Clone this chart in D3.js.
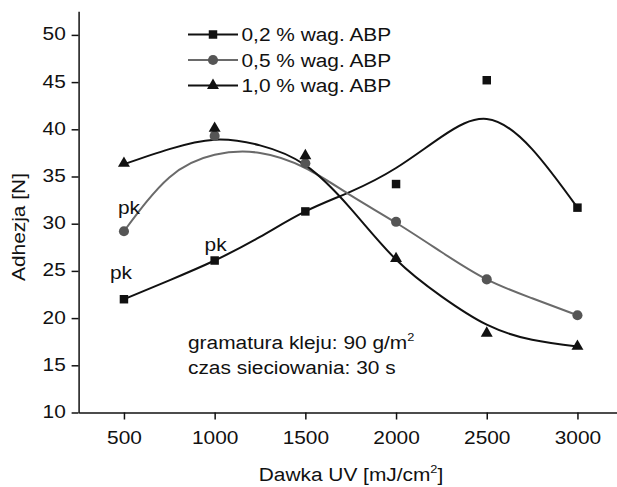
<!DOCTYPE html>
<html>
<head>
<meta charset="utf-8">
<script src="https://cdn.jsdelivr.net/npm/d3@7"></script>
<style>
  body { margin: 0; background: #fff; }
  text { font-family: "Liberation Sans", Arial, sans-serif; fill: #111; }
</style>
</head>
<body>
<div id="chart"></div>
<script>
// measured doses and adhesion values
const doses = [500, 1000, 1500, 2000, 2500, 3000];
const abp02 = [22.0, 26.1, 31.3, 34.2, 45.2, 31.7];
const abp05 = [29.2, 39.3, 36.4, 30.2, 24.1, 20.3];
const abp10 = [36.4, 40.1, 37.2, 26.3, 18.4, 17.0];

// fitted curves
const fitDoses = [500, 750, 1000, 1250, 1500, 1750, 2000, 2250, 2500, 2750, 3000];
const fit02 = [22.0, 24.0, 26.1, 28.6, 31.3, 33.4, 35.9, 39.2, 41.1, 37.9, 31.7];
const fit05 = [29.2, 34.9, 37.3, 37.5, 35.9, 33.0, 30.1, 27.0, 24.1, 22.1, 20.3];
const fit10 = [36.3, 37.9, 38.9, 38.3, 36.2, 31.6, 26.2, 22.3, 19.3, 17.7, 17.0];

const seriesNames = ['0,2 % wag. ABP', '0,5 % wag. ABP', '1,0 % wag. ABP'];

const xTicks = [500, 1000, 1500, 2000, 2500, 3000];
const xMinor = [750, 1250, 1750, 2250, 2750, 3250];
const yTicks = [10, 15, 20, 25, 30, 35, 40, 45, 50];
const yMinor = [12.5, 17.5, 22.5, 27.5, 32.5, 37.5, 42.5, 47.5, 52.5];

// "pk" notes: which series, which dose
const pkNotes = [
    {series: 0, dose: 500},
    {series: 0, dose: 1000},
    {series: 1, dose: 500}
];
const noteLines = ['gramatura kleju: 90 g/m', 'czas sieciowania: 30 s'];

const W = 617, H = 487;
const SX = 1.16;   // the original font runs wider than Arial
const FS = 18;

let svg = d3.select('#chart').append('svg')
    .attr('width', W)
    .attr('height', H);

let x = d3.scaleLinear().domain([250, 3250]).range([78.6, 622.8]);
let y = d3.scaleLinear().domain([10, 52.5]).range([412.5, 11.3]);

// axes
let gx = svg.append('g').attr('transform', 'translate(0,' + y(10) + ')');
gx.call(d3.axisBottom(x).tickValues(xMinor).tickSize(4).tickSizeOuter(0).tickFormat(''));
gx.call(d3.axisBottom(x).tickValues(xTicks).tickSize(7).tickSizeOuter(0).tickPadding(11.5)
    .tickFormat(d3.format('d')));

let gy = svg.append('g').attr('transform', 'translate(' + x(250) + ',0)');
gy.call(d3.axisLeft(y).tickValues(yMinor).tickSize(4).tickSizeOuter(0).tickFormat(''));
gy.call(d3.axisLeft(y).tickValues(yTicks).tickSize(7).tickSizeOuter(0).tickPadding(4)
    .tickFormat(d3.format('d')));

svg.selectAll('.domain, .tick line').attr('stroke', '#111').attr('stroke-width', 1.5);
svg.selectAll('.tick text')
    .attr('font-size', FS)
    .attr('font-family', '"Liberation Sans", Arial, sans-serif')
    .attr('fill', '#111')
    .attr('transform', 'scale(' + SX + ',1)');
gy.selectAll('.tick text').attr('dy', '0.28em');

// wide text helper
function label(str, px, py, anchor, rot) {
    let t = svg.append('text')
        .attr('font-size', FS)
        .attr('text-anchor', anchor || 'start')
        .attr('transform', 'translate(' + px + ',' + py + ')' + (rot ? ' rotate(' + rot + ')' : '') + ' scale(' + SX + ',1)');
    if (str !== null) t.text(str);
    return t;
}

// axis titles
let xl = label(null, 351, 481, 'middle');
xl.append('tspan').text('Dawka UV [mJ/cm');
xl.append('tspan').attr('font-size', 11).attr('dy', -8).text('2');
xl.append('tspan').attr('dy', 8).text(']');

label('Adhezja [N]', 25, 227, 'middle', -90);

// series
const series = [
    {vals: abp02, fit: fit02, line: '#111', fill: '#111', shape: d3.symbolSquare, size: 72},
    {vals: abp05, fit: fit05, line: '#6a6a6a', fill: '#555', shape: d3.symbolCircle, size: 80},
    {vals: abp10, fit: fit10, line: '#111', fill: '#111', shape: d3.symbolTriangle, size: 62}
];

let curve = d3.line()
    .x((d, i) => x(fitDoses[i]))
    .y(d => y(d))
    .curve(d3.curveNatural);

series.forEach(s => {
    svg.append('path')
        .attr('d', curve(s.fit))
        .attr('fill', 'none')
        .attr('stroke', s.line)
        .attr('stroke-width', 2);
});

series.forEach(s => {
    svg.append('g').selectAll('path')
        .data(s.vals)
        .enter().append('path')
        .attr('d', d3.symbol().type(s.shape).size(s.size))
        .attr('transform', (d, i) => 'translate(' + x(doses[i]) + ',' + y(d) + ')')
        .attr('fill', s.fill);
});

// legend
let legend = svg.append('g').attr('transform', 'translate(188,34.5)');
series.forEach((s, i) => {
    let row = legend.append('g').attr('transform', 'translate(0,' + (i * 25.5) + ')');
    row.append('line')
        .attr('x1', 0).attr('x2', 50)
        .attr('stroke', s.line).attr('stroke-width', 2);
    row.append('path')
        .attr('d', d3.symbol().type(s.shape).size(s.size))
        .attr('transform', 'translate(25,0)')
        .attr('fill', s.fill);
    label(seriesNames[i], 241.5, 34.5 + i * 25.5 + 6.5, 'start');
});

// "pk" labels
const pkOffsets = [[-3, -20], [1, -10], [5, -17]];
pkNotes.forEach((n, i) => {
    let vals = series[n.series].vals;
    let v = vals[doses.indexOf(n.dose)];
    label('pk', x(n.dose) + pkOffsets[i][0], y(v) + pkOffsets[i][1], 'middle');
});

// conditions note
let n1 = label(null, 188, 349, 'start');
n1.append('tspan').text(noteLines[0]);
n1.append('tspan').attr('font-size', 11).attr('dy', -8).text('2');
label(noteLines[1], 188, 374, 'start');
</script>
</body>
</html>
